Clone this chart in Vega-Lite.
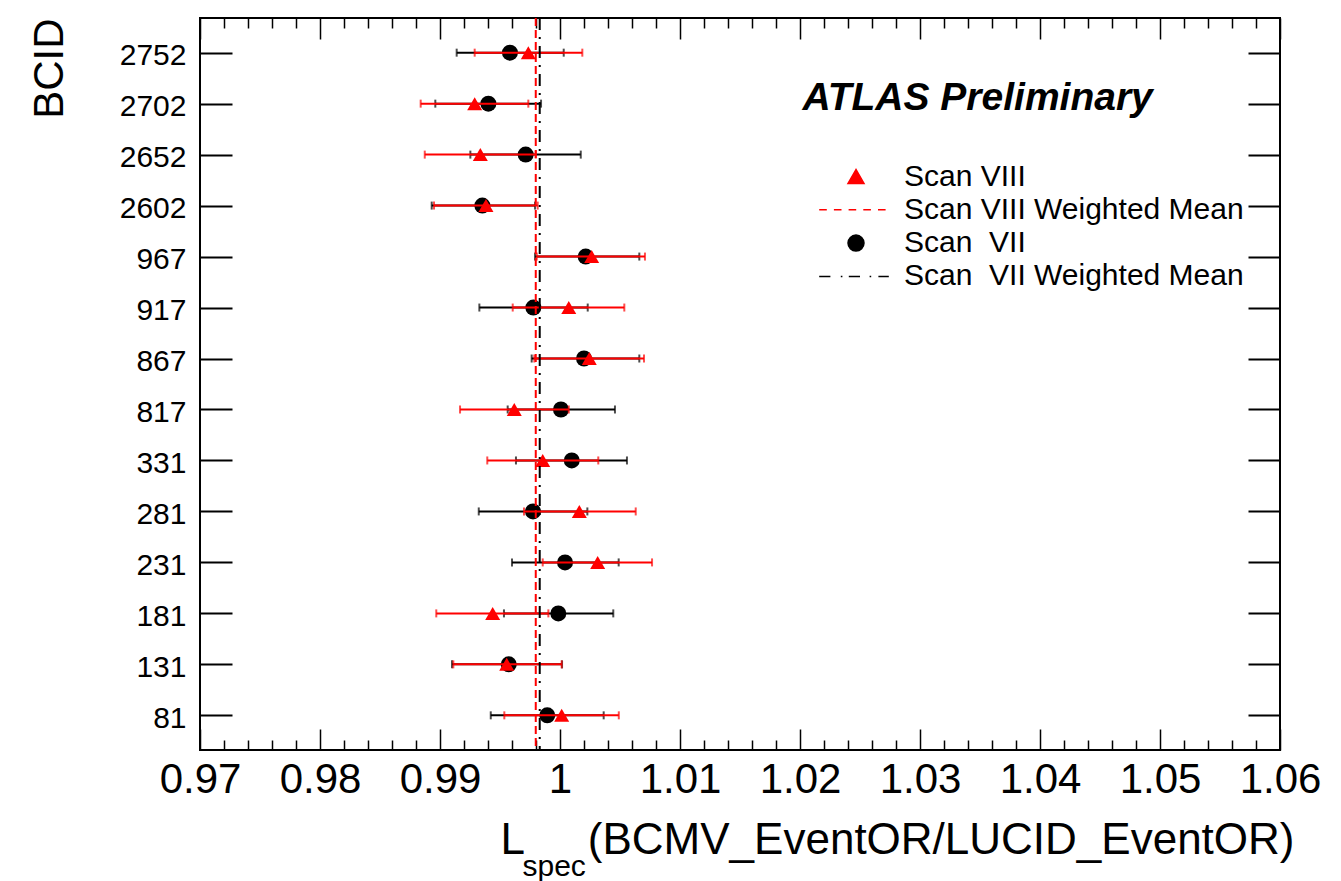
{
  "$schema": "https://vega.github.io/schema/vega-lite/v6.json",
  "width": 1080,
  "height": 732,
  "autosize": {"type": "none"},
  "padding": {"left": 200, "top": 18, "right": 61, "bottom": 131},
  "background": "white",
  "config": {
    "view": {"stroke": "black", "strokeWidth": 2},
    "font": "Liberation Sans",
    "axis": {"labelFont": "Liberation Sans", "titleFont": "Liberation Sans", "labelColor": "black", "titleColor": "black", "tickColor": "black", "domain": false, "grid": false, "titleFontWeight": "normal"}
  },
  "datasets": {
    "points": [
      {"bcid": "2752", "scan": "Scan\u00a0 VII", "value": 0.99583, "lo": 0.99139, "hi": 1.00031},
      {"bcid": "2702", "scan": "Scan\u00a0 VII", "value": 0.99403, "lo": 0.98961, "hi": 0.99842},
      {"bcid": "2652", "scan": "Scan\u00a0 VII", "value": 0.99714, "lo": 0.99253, "hi": 1.00173},
      {"bcid": "2602", "scan": "Scan\u00a0 VII", "value": 0.99353, "lo": 0.98931, "hi": 0.99792},
      {"bcid": "967", "scan": "Scan\u00a0 VII", "value": 1.00214, "lo": 0.99792, "hi": 1.00661},
      {"bcid": "917", "scan": "Scan\u00a0 VII", "value": 0.99778, "lo": 0.99328, "hi": 1.00231},
      {"bcid": "867", "scan": "Scan\u00a0 VII", "value": 1.002, "lo": 0.99764, "hi": 1.00661},
      {"bcid": "817", "scan": "Scan\u00a0 VII", "value": 1.00008, "lo": 0.99564, "hi": 1.00458},
      {"bcid": "331", "scan": "Scan\u00a0 VII", "value": 1.00098, "lo": 0.99633, "hi": 1.00558},
      {"bcid": "281", "scan": "Scan\u00a0 VII", "value": 0.99775, "lo": 0.99323, "hi": 1.00228},
      {"bcid": "231", "scan": "Scan\u00a0 VII", "value": 1.00042, "lo": 0.996, "hi": 1.00489},
      {"bcid": "181", "scan": "Scan\u00a0 VII", "value": 0.99986, "lo": 0.99533, "hi": 1.00444},
      {"bcid": "131", "scan": "Scan\u00a0 VII", "value": 0.99573, "lo": 0.991, "hi": 1.00017},
      {"bcid": "81", "scan": "Scan\u00a0 VII", "value": 0.99894, "lo": 0.99423, "hi": 1.00364},
      {"bcid": "2752", "scan": "Scan VIII", "value": 0.99736, "lo": 0.99289, "hi": 1.00186},
      {"bcid": "2702", "scan": "Scan VIII", "value": 0.99289, "lo": 0.98839, "hi": 0.99736},
      {"bcid": "2652", "scan": "Scan VIII", "value": 0.99336, "lo": 0.98873, "hi": 0.99798},
      {"bcid": "2602", "scan": "Scan VIII", "value": 0.99383, "lo": 0.9895, "hi": 0.99814},
      {"bcid": "967", "scan": "Scan VIII", "value": 1.00264, "lo": 0.99806, "hi": 1.00708},
      {"bcid": "917", "scan": "Scan VIII", "value": 1.00073, "lo": 0.99606, "hi": 1.00536},
      {"bcid": "867", "scan": "Scan VIII", "value": 1.00244, "lo": 0.99786, "hi": 1.007},
      {"bcid": "817", "scan": "Scan VIII", "value": 0.99619, "lo": 0.99167, "hi": 1.00073},
      {"bcid": "331", "scan": "Scan VIII", "value": 0.99856, "lo": 0.99394, "hi": 1.00319},
      {"bcid": "281", "scan": "Scan VIII", "value": 1.00161, "lo": 0.997, "hi": 1.00631},
      {"bcid": "231", "scan": "Scan VIII", "value": 1.00314, "lo": 0.99856, "hi": 1.00767},
      {"bcid": "181", "scan": "Scan VIII", "value": 0.99439, "lo": 0.98969, "hi": 0.99903},
      {"bcid": "131", "scan": "Scan VIII", "value": 0.99556, "lo": 0.99111, "hi": 1.00014},
      {"bcid": "81", "scan": "Scan VIII", "value": 1.00014, "lo": 0.99536, "hi": 1.0049}
    ],
    "means": [
      {"series": "Scan VIII Weighted Mean", "mean": 0.99798},
      {"series": "Scan\u00a0 VII Weighted Mean", "mean": 0.99831}
    ],
    "notes": [{"t": "ATLAS Preliminary"}]
  },
  "resolve": {"axis": {"x": "independent", "y": "independent"}},
  "layer": [
    {
      "data": {"name": "points"},
      "transform": [{"filter": "datum.scan !== 'Scan VIII'"}],
      "mark": {"type": "rule", "color": "black", "strokeWidth": 2},
      "encoding": {
        "x": {"field": "lo", "type": "quantitative", "scale": {"domain": [0.97, 1.06], "nice": false, "zero": false},
          "axis": {"orient": "bottom",
            "values": [0.97,0.972,0.974,0.976,0.978,0.98,0.982,0.984,0.986,0.988,0.99,0.992,0.994,0.996,0.998,1.0,1.002,1.004,1.006,1.008,1.01,1.012,1.014,1.016,1.018,1.02,1.022,1.024,1.026,1.028,1.03,1.032,1.034,1.036,1.038,1.04,1.042,1.044,1.046,1.048,1.05,1.052,1.054,1.056,1.058,1.06],
            "tickSize": {"condition": {"test": "abs(datum.value*100 - round(datum.value*100)) < 0.01", "value": -21}, "value": -10},
            "tickWidth": 1.5,
            "labelExpr": "abs(datum.value*100 - round(datum.value*100)) < 0.01 ? (abs(datum.value - 1) < 1e-9 ? '1' : format(datum.value, '.2f')) : ''",
            "labelFontSize": 42, "labelPadding": 30, "labelOverlap": false, "labelFlush": false, "labelBound": false,
            "title": "(BCMV_EventOR/LUCID_EventOR)", "titleFontSize": 44, "titleX": 1094, "titleY": 103, "titleAlign": "right", "titleBaseline": "alphabetic"}},
        "x2": {"field": "hi"},
        "y": {"field": "bcid", "type": "nominal", "scale": {"type": "point", "domain": ["2752","2702","2652","2602","967","917","867","817","331","281","231","181","131","81"], "padding": 0.68},
          "axis": {"orient": "left", "tickSize": -32, "tickWidth": 2, "labelFontSize": 30, "labelPadding": 46, "labelOffset": 3,
            "title": "BCID", "titleFontSize": 42, "titleAngle": -90, "titleX": -138, "titleY": 0, "titleAlign": "right", "titleBaseline": "alphabetic"}}
      }
    },
    {
      "data": {"name": "points"},
      "transform": [{"filter": "datum.scan !== 'Scan VIII'"}],
      "mark": {"type": "tick", "color": "black", "size": 8, "thickness": 2},
      "encoding": {
        "x": {"field": "lo", "type": "quantitative",
          "axis": {"orient": "top",
            "values": [0.97,0.972,0.974,0.976,0.978,0.98,0.982,0.984,0.986,0.988,0.99,0.992,0.994,0.996,0.998,1.0,1.002,1.004,1.006,1.008,1.01,1.012,1.014,1.016,1.018,1.02,1.022,1.024,1.026,1.028,1.03,1.032,1.034,1.036,1.038,1.04,1.042,1.044,1.046,1.048,1.05,1.052,1.054,1.056,1.058,1.06],
            "tickSize": {"condition": {"test": "abs(datum.value*100 - round(datum.value*100)) < 0.01", "value": -21}, "value": -10},
            "tickWidth": 1.5, "labels": false,
            "title": "spec", "titleFontSize": 30, "titleX": 322, "titleY": 857, "titleAlign": "left", "titleBaseline": "alphabetic"}},
        "y": {"field": "bcid", "type": "nominal",
          "axis": {"orient": "right", "tickSize": -32, "tickWidth": 2, "labels": false,
            "title": "L", "titleFontSize": 44, "titleAngle": 0, "titleX": -780, "titleY": 835, "titleAlign": "left", "titleBaseline": "alphabetic"}}
      }
    },
    {
      "data": {"name": "points"},
      "transform": [{"filter": "datum.scan !== 'Scan VIII'"}],
      "mark": {"type": "tick", "color": "black", "size": 8, "thickness": 2},
      "encoding": {
        "x": {"field": "hi", "type": "quantitative", "axis": null},
        "y": {"field": "bcid", "type": "nominal", "axis": null}
      }
    },
    {
      "data": {"name": "points"},
      "transform": [{"filter": "datum.scan !== 'Scan VIII'"}],
      "mark": {"type": "point", "filled": true, "opacity": 1, "size": 256},
      "encoding": {
        "x": {"field": "value", "type": "quantitative", "axis": null},
        "y": {"field": "bcid", "type": "nominal", "axis": null},
        "color": {"field": "scan", "type": "nominal",
          "scale": {"domain": ["Scan VIII", "Scan VIII Weighted Mean", "Scan\u00a0 VII", "Scan\u00a0 VII Weighted Mean"], "range": ["#ff0000", "#ff0000", "#000000", "#000000"]},
          "legend": {"title": null, "orient": "none", "legendX": 641, "legendY": 143.5, "padding": 0,
            "labelFont": "Liberation Sans", "labelFontSize": 30, "labelColor": "black", "labelOffset": 33, "labelLimit": 800,
            "symbolSize": 256, "symbolStrokeWidth": 1.5, "rowPadding": 3.3, "symbolOpacity": 1,
            "encode": {"symbols": {"update": {"stroke": {"signal": "indexof(datum.value, 'VIII') >= 0 ? '#ff0000' : '#000000'"}, "strokeWidth": {"value": 1.5}, "opacity": {"value": 1}}}}}},
        "shape": {"field": "scan", "type": "nominal",
          "scale": {"domain": ["Scan VIII", "Scan VIII Weighted Mean", "Scan\u00a0 VII", "Scan\u00a0 VII Weighted Mean"],
            "range": ["triangle-up", "M-4.6,0L-3.65,0M-2.7625,0L-1.8125,0M-0.925,0L0.025,0M0.9125,0L1.8625,0M2.75,0L3.7,0", "circle", "M-4.6,0L-3.2,0M-1.9,0L-1.7,0M-0.9,0L0.5,0M1.7,0L1.9,0M2.8,0L4.1,0"]},
          "legend": {"title": null, "orient": "none", "legendX": 641, "legendY": 143.5, "padding": 0,
            "labelFont": "Liberation Sans", "labelFontSize": 30, "labelColor": "black", "labelOffset": 33, "labelLimit": 800,
            "symbolSize": 256, "symbolStrokeWidth": 1.5, "rowPadding": 3.3, "symbolOpacity": 1,
            "encode": {"symbols": {"update": {"stroke": {"signal": "indexof(datum.value, 'VIII') >= 0 ? '#ff0000' : '#000000'"}, "strokeWidth": {"value": 1.5}, "opacity": {"value": 1}}}}}}
      }
    },
    {
      "data": {"name": "points"},
      "transform": [{"filter": "datum.scan === 'Scan VIII'"}],
      "mark": {"type": "rule", "color": "#ff0000", "strokeWidth": 2},
      "encoding": {
        "x": {"field": "lo", "type": "quantitative", "axis": null},
        "x2": {"field": "hi"},
        "y": {"field": "bcid", "type": "nominal", "axis": null}
      }
    },
    {
      "data": {"name": "points"},
      "transform": [{"filter": "datum.scan === 'Scan VIII'"}],
      "mark": {"type": "tick", "color": "#ff0000", "size": 8, "thickness": 2},
      "encoding": {
        "x": {"field": "lo", "type": "quantitative", "axis": null},
        "y": {"field": "bcid", "type": "nominal", "axis": null}
      }
    },
    {
      "data": {"name": "points"},
      "transform": [{"filter": "datum.scan === 'Scan VIII'"}],
      "mark": {"type": "tick", "color": "#ff0000", "size": 8, "thickness": 2},
      "encoding": {
        "x": {"field": "hi", "type": "quantitative", "axis": null},
        "y": {"field": "bcid", "type": "nominal", "axis": null}
      }
    },
    {
      "data": {"name": "points"},
      "transform": [{"filter": "datum.scan === 'Scan VIII'"}],
      "mark": {"type": "point", "filled": true, "opacity": 1, "size": 225},
      "encoding": {
        "x": {"field": "value", "type": "quantitative", "axis": null},
        "y": {"field": "bcid", "type": "nominal", "axis": null},
        "color": {"field": "scan", "type": "nominal"},
        "shape": {"field": "scan", "type": "nominal"}
      }
    },
    {
      "data": {"name": "means"},
      "transform": [{"filter": "datum.series === 'Scan VIII Weighted Mean'"}],
      "mark": {"type": "rule", "color": "#ff0000", "strokeWidth": 2, "strokeDash": [8, 4]},
      "encoding": {"x": {"field": "mean", "type": "quantitative", "axis": null}}
    },
    {
      "data": {"name": "means"},
      "transform": [{"filter": "datum.series !== 'Scan VIII Weighted Mean'"}],
      "mark": {"type": "rule", "color": "#000000", "strokeWidth": 2, "strokeDash": [12, 7, 2, 7]},
      "encoding": {"x": {"field": "mean", "type": "quantitative", "axis": null}}
    },
    {
      "data": {"name": "notes"},
      "mark": {"type": "text", "font": "Liberation Sans", "fontWeight": "bold", "fontStyle": "italic", "fontSize": 39, "align": "left", "baseline": "alphabetic", "dy": 6, "color": "black"},
      "encoding": {
        "x": {"datum": 1.0202, "type": "quantitative", "axis": null},
        "y": {"datum": "2702", "type": "nominal", "axis": null},
        "text": {"field": "t"}
      }
    }
  ]
}
